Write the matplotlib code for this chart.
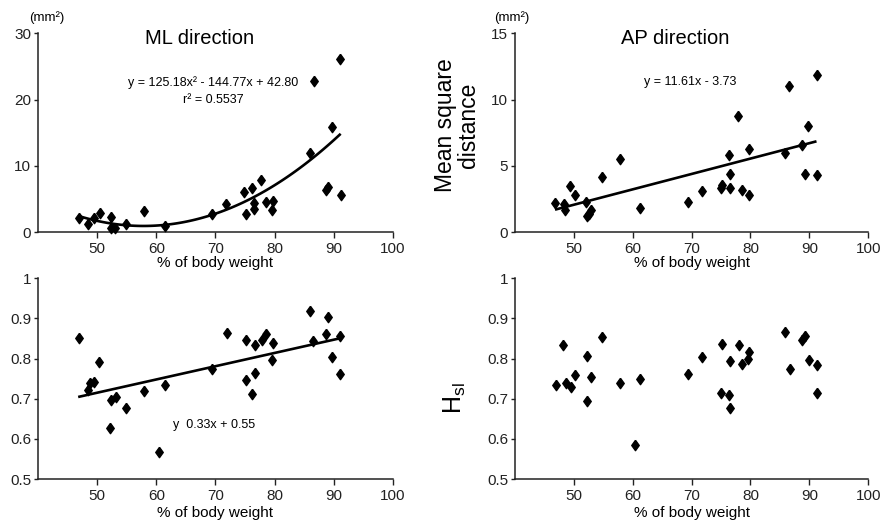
import numpy as np
import matplotlib
matplotlib.use("Agg")
import matplotlib.pyplot as plt

plt.rcParams['font.family'] = ['Liberation Sans', 'DejaVu Sans']
plt.rcParams['mathtext.fontset'] = 'custom'
plt.rcParams['mathtext.rm'] = 'Liberation Sans'

# ML direction (mean square distance, mm^2)
ml_x = [47.0, 48.4, 49.4, 50.4, 52.4, 52.3, 53.0, 54.8, 57.9, 61.4, 69.4, 71.8, 74.9, 75.1,
        76.2, 76.5, 76.5, 77.7, 78.5, 79.6, 79.8, 85.9, 86.6, 88.6, 89.0, 89.7, 91.1, 91.2]
ml_y = [2.2, 1.2, 2.2, 2.9, 2.3, 0.6, 0.6, 1.2, 3.2, 0.9, 2.8, 4.2, 6.0, 2.8,
        6.6, 4.4, 3.5, 7.9, 4.6, 3.4, 4.7, 11.9, 22.9, 6.3, 6.8, 15.9, 26.2, 5.6]
ml_fit = [125.18, -144.77, 42.80]

# AP direction
ap_x = [46.8, 48.3, 48.4, 49.3, 50.1, 52.1, 52.2, 52.6, 52.9, 54.7, 57.8, 61.3, 69.3, 71.8, 75.0,
        75.1, 76.3, 76.5, 76.6, 77.9, 78.5, 79.7, 79.8, 85.9, 86.6, 88.8, 89.2, 89.7, 91.3, 91.3]
ap_y = [2.2, 2.1, 1.7, 3.5, 2.8, 2.3, 1.2, 1.4, 1.7, 4.2, 5.5, 1.8, 2.3, 3.1, 3.3,
        3.6, 5.8, 4.4, 3.3, 8.8, 3.2, 2.8, 6.3, 6.0, 11.0, 6.6, 4.4, 8.0, 11.9, 4.3]
ap_fit = [11.61, -3.73]

# bottom left
bl_x = [47.0, 48.5, 48.8, 49.5, 50.3, 52.4, 52.2, 53.1, 54.9, 57.9, 60.4, 61.4, 69.4, 72.0, 75.1,
        75.1, 76.2, 76.6, 76.6, 77.9, 78.5, 79.6, 79.8, 85.9, 86.5, 88.7, 89.1, 89.7, 91.1, 91.1]
bl_y = [0.850, 0.721, 0.740, 0.741, 0.792, 0.697, 0.627, 0.705, 0.676, 0.719, 0.567, 0.735, 0.775, 0.864, 0.845,
        0.746, 0.713, 0.763, 0.834, 0.845, 0.862, 0.797, 0.838, 0.919, 0.843, 0.862, 0.904, 0.805, 0.855, 0.762]
bl_fit = [0.33, 0.55]

# bottom right (Hsl)
hs_x = [46.9, 48.2, 48.6, 49.5, 50.2, 52.2, 52.2, 52.9, 54.7, 57.8, 60.3, 61.2, 69.3, 71.8, 75.1,
        75.0, 76.3, 76.6, 76.6, 78.0, 78.5, 79.5, 79.8, 85.9, 86.7, 88.8, 89.2, 89.9, 91.3, 91.3]
hs_y = [0.734, 0.835, 0.740, 0.729, 0.759, 0.806, 0.694, 0.753, 0.854, 0.739, 0.584, 0.750, 0.761, 0.803, 0.836,
        0.714, 0.709, 0.677, 0.794, 0.833, 0.786, 0.798, 0.817, 0.867, 0.775, 0.846, 0.856, 0.796, 0.784, 0.714]

x_ticks = [50, 60, 70, 80, 90, 100]
top_left_ticks = [0, 10, 20, 30]
top_right_ticks = [0, 5, 10, 15]
bottom_ticks = [0.5, 0.6, 0.7, 0.8, 0.9, 1.0]
bottom_labels = ['0.5', '0.6', '0.7', '0.8', '0.9', '1']

diamond = [(0, 1), (0.72, 0), (0, -1), (-0.72, 0), (0, 1)]
narrow = ['Liberation Sans Narrow', 'Liberation Sans']

fig = plt.figure(figsize=(8.85, 5.23), dpi=100)
ax1 = fig.add_axes([0.043, 0.556, 0.401, 0.380])
ax2 = fig.add_axes([0.582, 0.556, 0.399, 0.380])
ax3 = fig.add_axes([0.043, 0.084, 0.401, 0.384])
ax4 = fig.add_axes([0.582, 0.084, 0.399, 0.384])


def style(ax, yticks, ylabels, ylim, xlabel):
    ax.set_xlim(40, 100)
    ax.set_ylim(*ylim)
    ax.set_xticks(x_ticks)
    ax.set_yticks(yticks)
    ax.set_yticklabels(ylabels)
    ax.spines['top'].set_visible(False)
    ax.spines['right'].set_visible(False)
    for s in ['left', 'bottom']:
        ax.spines[s].set_linewidth(1.1)
        ax.spines[s].set_color('#222222')
    ax.tick_params(axis='x', length=4, width=1, pad=3, labelsize=11, colors='#222222')
    ax.tick_params(axis='y', length=3, width=1, pad=2, labelsize=11, colors='#222222')
    ax.text(0.5, xlabel, '% of body weight', transform=ax.transAxes,
            ha='center', va='center', fontsize=11)


def scatter(ax, x, y):
    ax.plot(x, y, linestyle='none', marker=diamond, markersize=7.5,
            color='black', clip_on=False, zorder=3)


xs = np.linspace(47, 91, 100)

# ML
scatter(ax1, ml_x, ml_y)
ax1.plot(xs, np.polyval(ml_fit, xs / 100), color='black', lw=1.9)
style(ax1, top_left_ticks, ['0', '10', '20', '30'], (0, 30), -0.156)
ax1.text(0.456, 0.975, 'ML direction', transform=ax1.transAxes, ha='center', va='center', fontsize=14.5)
ax1.text(0.493, 0.754, 'y = 125.18x² - 144.77x + 42.80', transform=ax1.transAxes,
         ha='center', va='center', fontsize=9, family=narrow)
ax1.text(0.493, 0.663, 'r² = 0.5537', transform=ax1.transAxes,
         ha='center', va='center', fontsize=9, family=narrow)
ax1.text(0.025, 1.08, '(mm²)', transform=ax1.transAxes, ha='center', va='center', fontsize=9.5)

# AP
scatter(ax2, ap_x, ap_y)
ax2.plot(xs, np.polyval(ap_fit, xs / 100), color='black', lw=1.9)
style(ax2, top_right_ticks, ['0', '5', '10', '15'], (0, 15), -0.156)
ax2.text(0.453, 0.975, 'AP direction', transform=ax2.transAxes, ha='center', va='center', fontsize=14.5)
ax2.text(0.496, 0.754, 'y = 11.61x - 3.73', transform=ax2.transAxes,
         ha='center', va='center', fontsize=9, family=narrow)
ax2.text(-0.008, 1.08, '(mm²)', transform=ax2.transAxes, ha='center', va='center', fontsize=9.5)

# bottom left
scatter(ax3, bl_x, bl_y)
ax3.plot(xs, np.polyval(bl_fit, xs / 100), color='black', lw=1.9)
style(ax3, bottom_ticks, bottom_labels, (0.5, 1.0), -0.169)
ax3.text(0.496, 0.269, 'y  0.33x + 0.55', transform=ax3.transAxes,
         ha='center', va='center', fontsize=9, family=narrow)

# bottom right
scatter(ax4, hs_x, hs_y)
style(ax4, bottom_ticks, bottom_labels, (0.5, 1.0), -0.169)

fig.text(0.516, 0.761, 'Mean square\ndistance', rotation=90, ha='center', va='center',
         fontsize=16.5, multialignment='center', linespacing=1.0)
fig.text(0.514, 0.239, r'H$_{\mathrm{sl}}$', rotation=90, ha='center', va='center', fontsize=18)

fig.savefig('out.png', dpi=100)
